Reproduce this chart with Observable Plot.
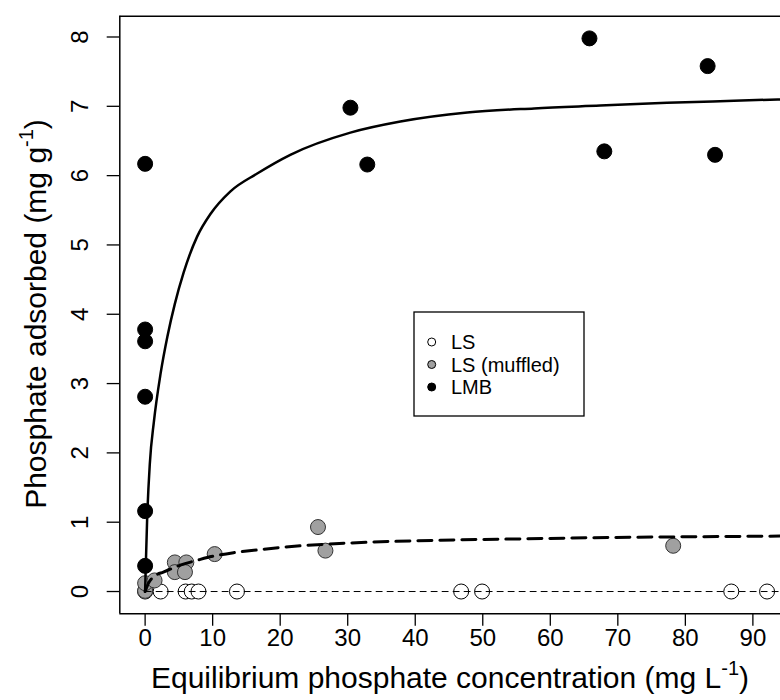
<!DOCTYPE html>
<html><head><meta charset="utf-8">
<script src="https://cdn.jsdelivr.net/npm/d3@7"></script>
<script src="https://cdn.jsdelivr.net/npm/@observablehq/plot@0.6"></script>
<style>body{margin:0;background:#fff;} svg{display:block;}</style>
</head><body><div id="chart"></div>
<script>
// LS (open circles)
const lsX = [0, 2.3, 6.0, 6.9, 7.9, 13.6, 46.8, 49.9, 86.8, 92.1];
const lsY = [0, 0, 0, 0, 0, 0, 0, 0, 0, 0];
// LS (muffled) (grey)
const mufX = [0, 0, 1.4, 4.4, 6.1, 4.4, 5.9, 10.3, 25.6, 26.7, 78.2];
const mufY = [0.01, 0.12, 0.16, 0.42, 0.42, 0.28, 0.28, 0.54, 0.93, 0.59, 0.66];
// LMB (black)
const lmbX = [0, 0, 0, 0, 0, 0, 30.4, 32.9, 65.8, 68.0, 83.3, 84.4];
const lmbY = [6.17, 3.78, 3.61, 2.81, 1.16, 0.37, 6.98, 6.16, 7.98, 6.35, 7.58, 6.30];
// fitted curves
const lmbFitX = [0, 0.1, 0.3, 0.7, 1.3, 2.3, 3.3, 4.4, 5.7, 7.7, 9.7, 12.6, 16.6, 21.5, 30.4, 37.8, 47.7, 57.6, 67.4, 77.3, 87.2, 94.1];
const lmbFitY = [0, 0.38, 1.05, 1.85, 2.45, 3.15, 3.68, 4.15, 4.6, 5.12, 5.45, 5.77, 6.03, 6.3, 6.62, 6.78, 6.91, 6.97, 7.01, 7.05, 7.08, 7.10];
const mufFitX = [0, 0.5, 1.5, 2.7, 5.2, 7.7, 9.2, 13.1, 16.6, 23, 30.4, 43.7, 56, 69.4, 81, 94.1];
const mufFitY = [0, 0.12, 0.23, 0.28, 0.38, 0.45, 0.49, 0.56, 0.60, 0.66, 0.70, 0.74, 0.76, 0.78, 0.79, 0.80];
const lsFitX = [0, 94.1];
const lsFitY = [0, 0];
const xTicks = [0, 10, 20, 30, 40, 50, 60, 70, 80, 90];
const yTicks = [0, 1, 2, 3, 4, 5, 6, 7, 8];
const legendLabels = ["LS", "LS (muffled)", "LMB"];
const legendFills = ["white", "#a0a0a0", "black"];

const pts = (X, Y) => X.map((x, i) => ({x, y: Y[i]}));
const XMIN = -3.75, XMAX = 94.09, YMIN = -0.32, YMAX = 8.30;
const FONT = "Liberation Sans, Arial, sans-serif";

const plot = Plot.plot({
  width: 780, height: 700,
  marginLeft: 119.3, marginRight: 0, marginTop: 15.7, marginBottom: 86.8,
  style: {fontFamily: FONT, background: "white", overflow: "hidden"},
  x: {domain: [XMIN, XMAX]},
  y: {domain: [YMIN, YMAX]},
  marks: [
    Plot.axisX({ticks: xTicks, tickSize: 12.6, label: null, text: null, strokeWidth: 1.3}),
    Plot.axisY({ticks: yTicks, tickSize: 12.6, label: null, text: null, strokeWidth: 1.3}),
    Plot.text(xTicks, {x: d => d, y: YMIN, dy: 25, text: d => String(d), fontSize: 24, fill: "black", lineAnchor: "middle"}),
    Plot.text(yTicks, {x: XMIN, y: d => d, dx: -39, text: d => String(d), rotate: -90, fontSize: 24, fill: "black", lineAnchor: "middle"}),
    Plot.ruleX([XMIN], {y1: YMIN, y2: YMAX, strokeWidth: 1.5}),
    Plot.ruleY([YMIN, YMAX], {x1: XMIN, x2: XMAX, strokeWidth: 1.5}),
    Plot.dot(pts(lsX, lsY), {x: "x", y: "y", r: 7.5, fill: "white", stroke: "black", strokeWidth: 1}),
    Plot.dot(pts(mufX, mufY), {x: "x", y: "y", r: 7.5, fill: "#a0a0a0", stroke: "#333", strokeWidth: 1}),
    Plot.dot(pts(lmbX, lmbY), {x: "x", y: "y", r: 7.5, fill: "black", stroke: "black", strokeWidth: 1}),
    Plot.line(pts(lsFitX, lsFitY), {x: "x", y: "y", stroke: "black", strokeWidth: 1, strokeDasharray: "6,5"}),
    Plot.line(pts(mufFitX, mufFitY), {x: "x", y: "y", stroke: "black", strokeWidth: 3, strokeDasharray: "14,8", curve: "monotone-x"}),
    Plot.line(pts(lmbFitX, lmbFitY), {x: "x", y: "y", stroke: "black", strokeWidth: 2.5, curve: "monotone-x"})
  ]
});
document.getElementById("chart").appendChild(plot);

// titles with superscripts, and legend
const svg = d3.select(plot);
const xt = svg.append("text").attr("x", 450).attr("y", 688).attr("text-anchor", "middle")
  .attr("font-family", FONT).attr("font-size", 30).attr("fill", "black");
xt.append("tspan").text("Equilibrium phosphate concentration (mg L");
xt.append("tspan").attr("font-size", 20).attr("dy", -13).text("-1");
xt.append("tspan").attr("dy", 13).text(")");

const yt = svg.append("text").attr("transform", "translate(46,314) rotate(-90)").attr("text-anchor", "middle")
  .attr("font-family", FONT).attr("font-size", 30).attr("fill", "black");
yt.append("tspan").text("Phosphate adsorbed (mg g");
yt.append("tspan").attr("font-size", 20).attr("dy", -13).text("-1");
yt.append("tspan").attr("dy", 13).text(")");

const lg = svg.append("g");
lg.append("rect").attr("x", 414).attr("y", 312).attr("width", 170).attr("height", 104)
  .attr("fill", "white").attr("stroke", "black").attr("stroke-width", 1.3);
legendLabels.forEach((lab, i) => {
  const cy = 342 + i * 22.5;
  lg.append("circle").attr("cx", 431.7).attr("cy", cy).attr("r", 4).attr("fill", legendFills[i]).attr("stroke", "black").attr("stroke-width", 1);
  lg.append("text").attr("x", 451).attr("y", cy).attr("dy", "0.35em").attr("text-anchor", "start")
    .attr("font-family", FONT).attr("font-size", 20).attr("fill", "black").text(lab);
});
</script></body></html>
